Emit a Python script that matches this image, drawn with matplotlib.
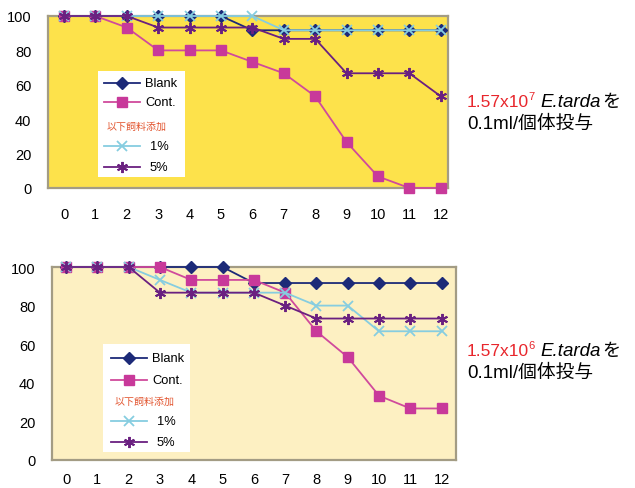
import matplotlib
matplotlib.use("Agg")
import matplotlib.pyplot as plt
from matplotlib.lines import Line2D
from matplotlib.patches import Rectangle

plt.rcParams['font.family'] = ['Liberation Sans', 'Noto Sans CJK JP', 'DejaVu Sans']

# days after challenge
days = list(range(13))

# survival rate (%) - 1.57x10^7 challenge
blank_hi = [100, 100, 100, 100, 100, 100, 91.7, 91.7, 91.7, 91.7, 91.7, 91.7, 91.7]
cont_hi = [100, 100, 93.3, 80, 80, 80, 73.3, 66.7, 53.3, 26.7, 6.7, 0, 0]
p1_hi = [100, 100, 100, 100, 100, 100, 100, 91.7, 91.7, 91.7, 91.7, 91.7, 91.7]
p5_hi = [100, 100, 100, 93.3, 93.3, 93.3, 93.3, 86.7, 86.7, 66.7, 66.7, 66.7, 53.3]

# survival rate (%) - 1.57x10^6 challenge
blank_lo = [100, 100, 100, 100, 100, 100, 91.7, 91.7, 91.7, 91.7, 91.7, 91.7, 91.7]
cont_lo = [100, 100, 100, 100, 93.3, 93.3, 93.3, 86.7, 66.7, 53.3, 33.3, 26.7, 26.7]
p1_lo = [100, 100, 100, 93.3, 86.7, 86.7, 86.7, 86.7, 80, 80, 66.7, 66.7, 66.7]
p5_lo = [100, 100, 100, 86.7, 86.7, 86.7, 86.7, 80, 73.3, 73.3, 73.3, 73.3, 73.3]

yticks = [0, 20, 40, 60, 80, 100]

W, H = 635, 489

styles = {
    'Blank': dict(color='#1c2a78', marker='D', ms=6, mfc='#1c2a78', mec='#1c2a78'),
    'Cont.': dict(color='#d04a9c', marker='s', ms=6.8, mfc='#c8399a', mec='#c8399a'),
    '1%': dict(color='#86cde0', marker='x', ms=6.5, mew=1.3),
    '5%': dict(color='#6a2080', marker=(6, 2, 0), ms=8, mew=1.4),
}


def px(x, y):
    # pixel (from top-left) to figure fraction
    return x / W, 1 - y / H


def draw_panel(fig, box, xlim, face, series, xpad=14):
    l, t, r, b = box
    ax = fig.add_axes([l / W, 1 - b / H, (r - l) / W, (b - t) / H])
    ax.set_facecolor(face)
    for name, vals in series:
        ax.plot(days, vals, lw=1.3, clip_on=False, zorder=3, **styles[name])
    ax.set_xlim(*xlim)
    ax.set_ylim(0, 100)
    ax.set_xticks(days)
    ax.set_yticks(yticks)
    ax.tick_params(length=0, labelsize=10.5, pad=12)
    ax.tick_params(axis='x', pad=xpad)
    for s in ax.spines.values():
        s.set_color('#a39c84')
        s.set_linewidth(1.6)
        s.set_zorder(2)
    return ax


def draw_legend(fig, box, rows, hx, tx, jx, pctx):
    l, t, r, b = box
    x0, y0 = px(l, b)
    x1, y1 = px(r, t)
    fig.patches.append(Rectangle((x0, y0), x1 - x0, y1 - y0, transform=fig.transFigure,
                                 facecolor='white', edgecolor='none'))
    names = ['Blank', 'Cont.', None, '1%', '5%']
    for name, ry in zip(names, rows):
        if name is None:
            fx, fy = px(jx, ry)
            fig.text(fx, fy, '以下飼料添加', color='#e2542e', fontsize=7.2, va='center', ha='left')
            continue
        a, fy = px(hx[0], ry)
        c, _ = px(hx[1], ry)
        m, _ = px((hx[0] + hx[1]) / 2, ry)
        st = styles[name]
        fig.lines.append(Line2D([a, c], [fy, fy], transform=fig.transFigure,
                                color=st['color'], lw=1.3))
        fig.lines.append(Line2D([m], [fy], transform=fig.transFigure, linestyle='none',
                                **st))
        lx = tx if name in ('Blank', 'Cont.') else pctx
        fig.text(px(lx, ry)[0], fy, name, fontsize=9.3, va='center', ha='left')


def draw_note(fig, x, base1, base2, exp):
    fx, fy = px(x, base1)
    fig.text(fx, fy, '1.57x10', color='#e8262c', fontsize=12.5, va='baseline')
    fig.text(px(x + 61, 0)[0], px(0, base1 - 7)[1], exp, color='#e8262c', fontsize=8,
             va='baseline')
    fig.text(px(x + 73, 0)[0], fy, 'E.tarda', style='italic', fontsize=13.5, va='baseline')
    fig.text(px(x + 135, 0)[0], fy, 'を', fontsize=13, va='baseline')
    fig.text(fx, px(0, base2)[1], '0.1ml/個体投与', fontsize=13.5, va='baseline')


fig = plt.figure(figsize=(W / 100, H / 100), dpi=100)

draw_panel(fig, (48, 17, 448, 189), (-0.51, 12.23), '#fde24b',
           [('Blank', blank_hi), ('Cont.', cont_hi), ('1%', p1_hi), ('5%', p5_hi)])
draw_legend(fig, (98, 72, 185, 178), [84, 103, 127, 147, 168],
            (104, 140), 145, 107, 150)
draw_note(fig, 467, 107, 129, '7')

draw_panel(fig, (52, 268, 456, 461), (-0.45, 12.46), '#fdf0c2',
           [('Blank', blank_lo), ('Cont.', cont_lo), ('1%', p1_lo), ('5%', p5_lo)],
           xpad=9)
draw_legend(fig, (103, 345, 190, 453), [359, 381, 402, 422, 443],
            (111, 147), 152, 115, 157)
draw_note(fig, 467, 356, 378, '6')

fig.savefig('out.png', dpi=100)
